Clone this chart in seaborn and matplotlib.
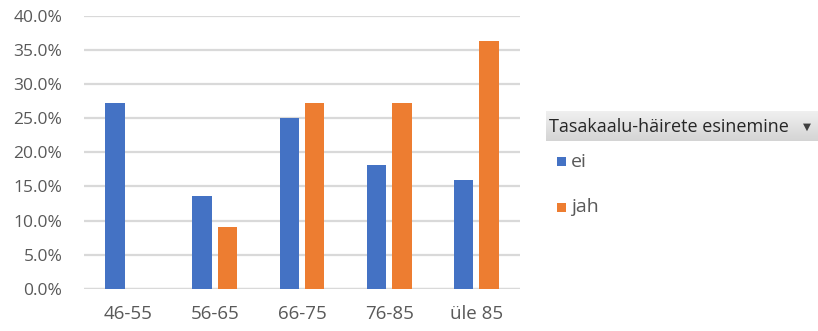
import numpy as np
import pandas as pd
import matplotlib
matplotlib.use("Agg")
import matplotlib.pyplot as plt
from matplotlib.patches import Rectangle
import seaborn as sns

age_groups = ["46-55", "56-65", "66-75", "76-85", "üle 85"]
ei_share = [0.273, 0.136, 0.250, 0.182, 0.159]
jah_share = [0.0, 0.091, 0.273, 0.273, 0.364]
series_names = ["ei", "jah"]
legend_title = "Tasakaalu-häirete esinemine"
y_ticks = [0.0, 0.05, 0.10, 0.15, 0.20, 0.25, 0.30, 0.35, 0.40]

df = pd.DataFrame({
    "vanus": age_groups * 2,
    "osakaal": ei_share + jah_share,
    "rühm": [series_names[0]] * len(age_groups) + [series_names[1]] * len(age_groups),
})

sns.set_theme(style="white")
plt.rcParams["font.family"] = ["Open Sans", "DejaVu Sans"]

text_gray = "#595959"
grid_gray = "#d9d9d9"
palette = {"ei": "#4472c4", "jah": "#ed7d31"}

fig = plt.figure(figsize=(8.18, 3.31), dpi=100)
ax = fig.add_axes([84 / 818, 1 - 288.7 / 331, (520 - 84) / 818, (288.7 - 16) / 331])

sns.barplot(data=df, x="vanus", y="osakaal", hue="rühm", hue_order=series_names,
            order=age_groups, palette=palette, width=0.58, gap=0.23,
            saturation=1, ax=ax, legend=False, edgecolor="none")

ax.set_ylim(0, 0.40)
ax.set_xlim(-0.5, len(age_groups) - 0.5)
ax.set_yticks(y_ticks)
ax.set_yticklabels([f"{t * 100:.1f}%" for t in y_ticks])
ax.yaxis.grid(True, color=grid_gray, linewidth=1.6)
ax.set_axisbelow(True)
for side in ["top", "right", "left", "bottom"]:
    ax.spines[side].set_visible(False)
ax.axhline(0, color=grid_gray, linewidth=1.6, zorder=0.5)
ax.set_xlabel("")
ax.set_ylabel("")
ax.tick_params(axis="y", length=0, pad=15.5, labelsize=12.5, labelcolor=text_gray)
ax.tick_params(axis="x", length=0, pad=12, labelsize=13.5, labelcolor=text_gray)
ax.grid(False, axis="x")

# legend header with gradient and drop-down arrow
hx0, hy0, hx1, hy1 = 546 / 818, 1 - 141 / 331, 1.0, 1 - 111 / 331
grad = np.linspace(0, 1, 50).reshape(-1, 1)
hax = fig.add_axes([hx0, hy0, hx1 - hx0, hy1 - hy0])
hax.imshow(grad, aspect="auto", cmap=matplotlib.colors.LinearSegmentedColormap.from_list(
    "hdr", ["#f0f0f0", "#d4d4d4"]), extent=[0, 1, 0, 1], origin="upper")
hax.set_axis_off()
hax.text(0.012, 0.48, legend_title, va="center", ha="left", fontsize=13, color="#262626")
hax.text(0.958, 0.48, "▼", va="center", ha="center", fontsize=7.5, color="#404040",
         family=["DejaVu Sans"])

# legend entries
for i, name in enumerate(series_names):
    yc = 1 - (162 + i * 45) / 331
    fig.patches.append(Rectangle((557 / 818, yc - 4.5 / 331), 9 / 818, 9 / 331,
                                 transform=fig.transFigure, facecolor=palette[name],
                                 edgecolor="none"))
    fig.text(571 / 818, yc, name, va="center", ha="left", fontsize=14, color=text_gray)

fig.savefig("out.png", dpi=100)
